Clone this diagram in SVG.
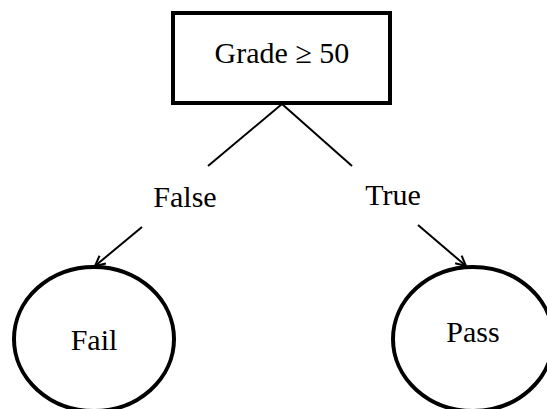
<svg xmlns="http://www.w3.org/2000/svg" width="547" height="409" viewBox="0 0 547 409">
<defs>
<style>
.t{font-family:"Liberation Serif","Times New Roman",serif;font-size:30px;fill:#000;text-anchor:middle}
.n{fill:#fff;stroke:#000;stroke-width:4}
.c{stroke:#000;stroke-width:2;fill:none}
</style>
<marker id="ah" viewBox="0 0 12 12" refX="11" refY="6" markerWidth="12" markerHeight="12" markerUnits="userSpaceOnUse" orient="auto">
<path d="M1,1 L11,6 L1,11" fill="none" stroke="#000" stroke-width="2"/>
</marker>
</defs>
<rect width="547" height="409" fill="#fff"/>
<g id="connectors">
<line class="c" x1="282" y1="104" x2="208" y2="166"/>
<line class="c" x1="282" y1="104" x2="352" y2="166"/>
<line class="c" x1="142" y1="227" x2="95" y2="266" marker-end="url(#ah)"/>
<line class="c" x1="418" y1="225" x2="466" y2="266" marker-end="url(#ah)"/>
<text class="t" x="185" y="207">False</text>
<text class="t" x="393" y="205">True</text>
</g>
<g id="grade">
<rect class="n" x="173" y="13" width="217" height="90"/>
<text class="t" x="282" y="63">Grade ≥ 50</text>
</g>
<g id="fail">
<ellipse class="n" cx="94" cy="339" rx="80" ry="72"/>
<text class="t" x="94" y="350">Fail</text>
</g>
<g id="pass">
<ellipse class="n" cx="473" cy="339" rx="80" ry="72"/>
<text class="t" x="473" y="342">Pass</text>
</g>
</svg>
